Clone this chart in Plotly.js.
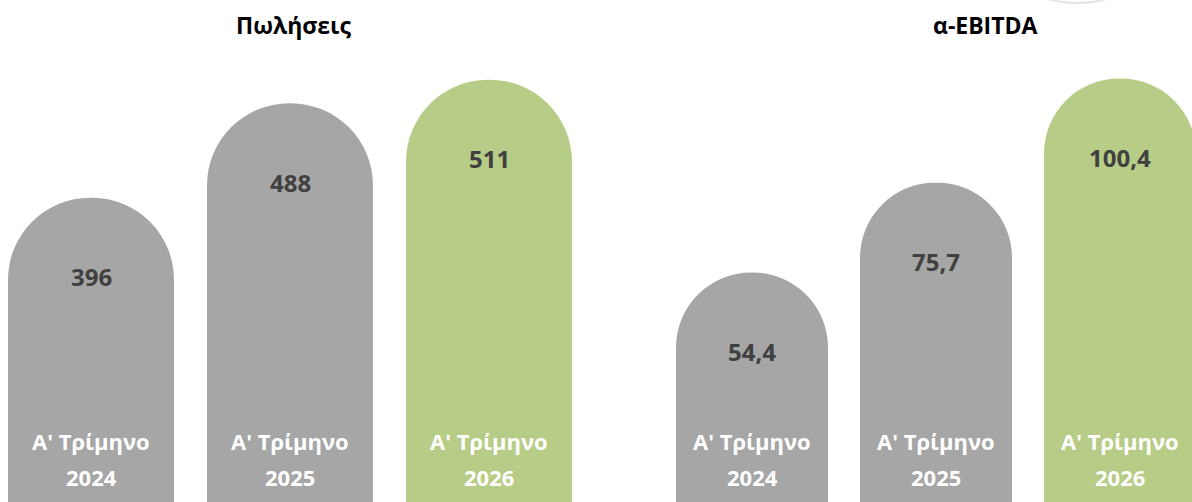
<!DOCTYPE html>
<html>
<head>
<meta charset="utf-8">
<script src="https://cdn.plot.ly/plotly-3.0.1.min.js"></script>
<style>html,body{margin:0;padding:0;background:#fff}#chart{width:1192px;height:502px}</style>
</head>
<body>
<div id="chart"></div>
<script>
const periods = ["Α' Τρίμηνο", "Α' Τρίμηνο", "Α' Τρίμηνο"];
const years = ["2024", "2025", "2026"];
const salesValues = [396, 488, 511];
const salesLabels = ["396", "488", "511"];
const ebitdaValues = [54.4, 75.7, 100.4];
const ebitdaLabels = ["54,4", "75,7", "100,4"];
const panelTitles = ["Πωλήσεις", "α-EBITDA"];

const gray = '#A6A6A6', green = '#B7CC86';
const colors = [gray, gray, green];
const xs = [0, 1, 2];

const labelFont = {family: 'Open Sans, sans-serif', size: 24, color: '#404040', weight: 'bold'};
const catFont = {family: 'Open Sans, sans-serif', size: 22, color: '#ffffff', weight: 'bold'};

const traces = [
  {type: 'bar', x: xs, y: salesValues, xaxis: 'x', yaxis: 'y', width: 0.834,
   marker: {color: colors, cornerradius: '50%', line: {width: 0}}, hoverinfo: 'skip'},
  {type: 'bar', x: xs, y: ebitdaValues, xaxis: 'x2', yaxis: 'y2', width: 0.826,
   marker: {color: colors, cornerradius: '50%', line: {width: 0}}, hoverinfo: 'skip'}
];

const annotations = [];
function addPanel(values, labels, xr, yr) {
  values.forEach((v, i) => {
    annotations.push({x: xs[i], y: v, xref: xr, yref: yr, text: '<b>' + labels[i] + '</b>',
      showarrow: false, yshift: -79, font: labelFont, xanchor: 'center', yanchor: 'middle'});
    annotations.push({x: xs[i], y: (502 - 441) / 502, xref: xr, yref: 'paper', text: periods[i],
      showarrow: false, font: catFont, xanchor: 'center', yanchor: 'middle'});
    annotations.push({x: xs[i], y: (502 - 477) / 502, xref: xr, yref: 'paper', text: years[i],
      showarrow: false, font: catFont, xanchor: 'center', yanchor: 'middle'});
  });
}
addPanel(salesValues, salesLabels, 'x', 'y');
addPanel(ebitdaValues, ebitdaLabels, 'x2', 'y2');

const titleFont = {family: 'Open Sans, sans-serif', size: 23, color: '#000000', weight: 'bold'};
annotations.push({x: 293 / 1192, y: (502 - 25) / 502, xref: 'paper', yref: 'paper', text: '<b>' + panelTitles[0] + '</b>',
  showarrow: false, font: titleFont, xanchor: 'center', yanchor: 'middle'});
annotations.push({x: 985 / 1192, y: (502 - 25) / 502, xref: 'paper', yref: 'paper', text: '<b>' + panelTitles[1] + '</b>',
  showarrow: false, font: titleFont, xanchor: 'center', yanchor: 'middle'});

const axisCommon = {showgrid: false, zeroline: false, showticklabels: false, ticks: '', showline: false, fixedrange: true};

const layout = {
  width: 1192, height: 502,
  margin: {l: 0, r: 0, t: 0, b: 0},
  paper_bgcolor: '#ffffff', plot_bgcolor: 'rgba(0,0,0,0)',
  showlegend: false,
  xaxis: Object.assign({}, axisCommon, {domain: [0, 0.5], range: [-0.4573, 2.5377]}),
  yaxis: Object.assign({}, axisCommon, {domain: [0, 1], range: [99.4, 588.7]}),
  xaxis2: Object.assign({}, axisCommon, {domain: [0.5, 1], range: [-0.8478, 2.3913], anchor: 'y2'}),
  yaxis2: Object.assign({}, axisCommon, {domain: [0, 1], range: [0, 119.0], anchor: 'x2'}),
  annotations: annotations,
  shapes: [{type: 'circle', xref: 'paper', yref: 'paper', x0: 1010 / 1192, x1: 1145 / 1192,
    y0: (502 - 3) / 502, y1: (502 + 80) / 502, line: {color: '#e4e4e4', width: 2}, fillcolor: 'rgba(0,0,0,0)'}]
};

Plotly.newPlot('chart', traces, layout, {displayModeBar: false, staticPlot: true});
</script>
</body>
</html>
